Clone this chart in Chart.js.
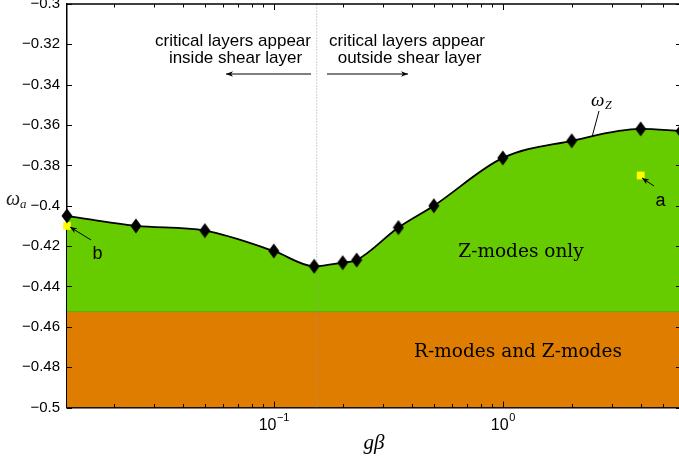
<!DOCTYPE html>
<html>
<head>
<meta charset="utf-8">
<script src="https://cdn.jsdelivr.net/npm/chart.js@4"></script>
<style>
  html, body { margin: 0; padding: 0; overflow: hidden; background: #fff; }
  #wrap { width: 690px; height: 459px; }
</style>
</head>
<body>
<div id="wrap"><canvas id="modes" width="690" height="459"></canvas></div>
<script>
// g*beta values where omega_Z was computed, and omega_Z itself
const gBeta = [0.0125, 0.025, 0.05, 0.1, 0.15, 0.2, 0.23, 0.35, 0.5, 1, 2, 4, 6];
const omegaZ = [-0.405, -0.410, -0.4123, -0.4224, -0.430, -0.4282, -0.4269, -0.4108, -0.400, -0.3763, -0.3678, -0.3619, -0.3630];

// R-mode boundary (lower band) and the critical-layer divide
const rModeTop = -0.4525;
const xRange = [0.0125, 6];
const yRange = [-0.5, -0.3];
const criticalX = 0.154;

// the two marked cases
const caseNames = ['a', 'b'];
const caseX = [4, 0.0125];
const caseY = [-0.385, -0.41];

// axis ticks
const xMajor = [0.1, 1];
const xMajorExp = ['\u22121', '0'];
const yStep = 0.02;

// tall black diamond marker
const diamond = document.createElement('canvas');
diamond.width = 12; diamond.height = 16;
(function () {
    const d = diamond.getContext('2d');
    d.fillStyle = '#000';
    d.beginPath();
    d.moveTo(6, 0.5); d.lineTo(11.5, 8); d.lineTo(6, 15.5); d.lineTo(0.5, 8);
    d.closePath();
    d.fill();
})();

function arrow(ctx, x1, y1, x2, y2) {
    // line from (x1,y1) with head at (x2,y2)
    const a = Math.atan2(y2 - y1, x2 - x1);
    ctx.beginPath();
    ctx.moveTo(x1, y1);
    ctx.lineTo(x2, y2);
    ctx.stroke();
    ctx.beginPath();
    ctx.moveTo(x2, y2);
    ctx.lineTo(x2 - 7 * Math.cos(a) + 2.8 * Math.sin(a), y2 - 7 * Math.sin(a) - 2.8 * Math.cos(a));
    ctx.lineTo(x2 - 5 * Math.cos(a), y2 - 5 * Math.sin(a));
    ctx.lineTo(x2 - 7 * Math.cos(a) - 2.8 * Math.sin(a), y2 - 7 * Math.sin(a) + 2.8 * Math.cos(a));
    ctx.closePath();
    ctx.fill();
}

const decor = {
    id: 'decor',
    afterDraw(chart) {
        const ctx = chart.ctx;
        const area = chart.chartArea;
        const xs = chart.scales.x, ys = chart.scales.y;
        ctx.save();

        // frame: top and right (left/bottom come from the axis borders)
        ctx.strokeStyle = '#000';
        ctx.lineWidth = 1.5;
        ctx.beginPath();
        ctx.moveTo(area.left, area.top);
        ctx.lineTo(area.right, area.top);
        ctx.lineTo(area.right, area.bottom);
        ctx.stroke();

        // inward ticks
        ctx.lineWidth = 1;
        ctx.beginPath();
        for (let v = yRange[0]; v <= yRange[1] + 1e-9; v += yStep) {
            const py = Math.round(ys.getPixelForValue(v)) + 0.5;
            ctx.moveTo(area.left, py); ctx.lineTo(area.left + 5, py);
            ctx.moveTo(area.right, py); ctx.lineTo(area.right - 5, py);
        }
        for (let dec = 0.01; dec < 10; dec *= 10) {
            for (let m = 1; m <= 9; m++) {
                const v = dec * m;
                if (v < xRange[0] || v > xRange[1]) continue;
                const px = Math.round(xs.getPixelForValue(v)) + 0.5;
                const len = m === 1 ? 6 : 3.5;
                ctx.moveTo(px, area.bottom); ctx.lineTo(px, area.bottom - len);
                ctx.moveTo(px, area.top); ctx.lineTo(px, area.top + len);
            }
        }
        ctx.stroke();

        // x tick labels with superscripts
        ctx.fillStyle = '#000';
        ctx.textBaseline = 'alphabetic';
        xMajor.forEach((v, i) => {
            const px = xs.getPixelForValue(v);
            ctx.font = '16px "Liberation Sans", Arial, sans-serif';
            const w1 = ctx.measureText('10').width;
            ctx.font = '11px "Liberation Sans", Arial, sans-serif';
            const w2 = ctx.measureText(xMajorExp[i]).width;
            const x0 = px - (w1 + w2) / 2;
            ctx.textAlign = 'left';
            ctx.font = '16px "Liberation Sans", Arial, sans-serif';
            ctx.fillText('10', x0, 430);
            ctx.font = '11px "Liberation Sans", Arial, sans-serif';
            ctx.fillText(xMajorExp[i], x0 + w1 + 0.5, 421);
        });

        // axis titles
        ctx.textAlign = 'center';
        ctx.font = 'italic 21px "Liberation Serif", "DejaVu Serif", serif';
        ctx.fillText('g\u03b2', (area.left + 679) / 2 + 1, 449);
        ctx.textAlign = 'left';
        ctx.fillStyle = '#222';
        ctx.font = 'italic 20px "Liberation Serif", "DejaVu Serif", serif';
        ctx.fillText('\u03c9', 6, 205);
        ctx.font = 'italic 13px "Liberation Serif", "DejaVu Serif", serif';
        ctx.fillText('a', 20, 208);
        ctx.fillStyle = '#000';

        // omega_Z label with leader
        ctx.font = 'italic 19px "Liberation Serif", "DejaVu Serif", serif';
        ctx.fillText('\u03c9', 591, 106);
        ctx.font = 'italic 12px "Liberation Serif", "DejaVu Serif", serif';
        ctx.fillText('Z', 605, 109);
        ctx.lineWidth = 1;
        ctx.beginPath();
        ctx.moveTo(599, 111); ctx.lineTo(592, 137);
        ctx.stroke();

        // critical layer annotations
        ctx.textAlign = 'center';
        ctx.font = '17px "Liberation Sans", Arial, sans-serif';
        ctx.fillText('critical layers appear', 233, 46);
        ctx.fillText('inside shear layer', 235.5, 63);
        ctx.fillText('critical layers appear', 407, 46);
        ctx.fillText('outside shear layer', 409.5, 63);
        ctx.lineWidth = 1.2;
        arrow(ctx, 311, 74, 226, 74);
        arrow(ctx, 327, 74, 408, 74);

        // case labels
        ctx.font = '18px "Liberation Sans", Arial, sans-serif';
        ctx.fillText(caseNames[0], 660.5, 206);
        ctx.fillText(caseNames[1], 97.5, 259);
        ctx.lineWidth = 1;
        arrow(ctx, 654, 186, 642, 178);
        arrow(ctx, 91, 240, 70, 227);

        // region labels
        ctx.font = '18.5px "DejaVu Serif", serif';
        ctx.textBaseline = 'middle';
        ctx.fillText('Z-modes only', 521, 252);
        ctx.fillText('R-modes and Z-modes', 518, 352);

        ctx.restore();
    }
};

const ctx = document.getElementById('modes').getContext('2d');

new Chart(ctx, {
    type: 'line',
    data: {
        datasets: [
            {
                // omega_Z curve, Z-modes region below it
                data: gBeta.map((x, i) => ({ x: x, y: omegaZ[i] })),
                borderColor: '#000',
                borderWidth: 1.8,
                backgroundColor: '#66cc00',
                fill: { value: rModeTop },
                cubicInterpolationMode: 'monotone',
                pointStyle: diamond,
                pointRadius: 6,
                clip: false,
                order: 2
            },
            {
                // R-modes band
                data: xRange.map(x => ({ x: x, y: rModeTop })),
                borderColor: '#55aa00',
                borderWidth: 1,
                backgroundColor: '#df7d00',
                fill: 'start',
                pointRadius: 0,
                order: 5
            },
            {
                // critical layer divide
                data: yRange.map(y => ({ x: criticalX, y: y })),
                borderColor: 'rgba(150,150,150,0.9)',
                borderWidth: 1,
                borderDash: [1, 2],
                fill: false,
                pointRadius: 0,
                order: 4
            },
            {
                // cases a and b
                data: caseX.map((x, i) => ({ x: x, y: caseY[i] })),
                showLine: false,
                pointStyle: 'rect',
                pointRadius: 5.5,
                backgroundColor: '#ffff00',
                borderColor: '#ffff00',
                borderWidth: 0,
                clip: false,
                order: 3
            }
        ]
    },
    options: {
        responsive: false,
        animation: false,
        events: [],
        layout: { autoPadding: false, padding: { top: 4, right: 9, left: 0, bottom: 0 } },
        plugins: {
            legend: { display: false },
            tooltip: { enabled: false },
            filler: { drawTime: 'beforeDatasetsDraw' }
        },
        scales: {
            x: {
                type: 'logarithmic',
                min: xRange[0],
                max: xRange[1],
                grid: { display: false, drawTicks: false },
                border: { display: true, color: '#000', width: 1.5 },
                ticks: { display: false },
                afterFit: s => {
                    s.height = 51.5;
                    s.paddingLeft = 0; s.paddingRight = 0; s.paddingTop = 0; s.paddingBottom = 0;
                }
            },
            y: {
                type: 'linear',
                min: yRange[0],
                max: yRange[1],
                grid: { display: false, drawTicks: false },
                border: { display: true, color: '#000', width: 1.5 },
                ticks: {
                    stepSize: yStep,
                    padding: 7,
                    color: '#000',
                    font: { family: '"Liberation Sans", Arial, sans-serif', size: 15 },
                    callback: v => String(Number(v.toFixed(2))).replace('-', '\u2212')
                },
                afterFit: s => {
                    s.width = 67;
                    s.paddingLeft = 0; s.paddingRight = 0; s.paddingTop = 0; s.paddingBottom = 0;
                }
            }
        }
    },
    plugins: [decor]
});
</script>
</body>
</html>
